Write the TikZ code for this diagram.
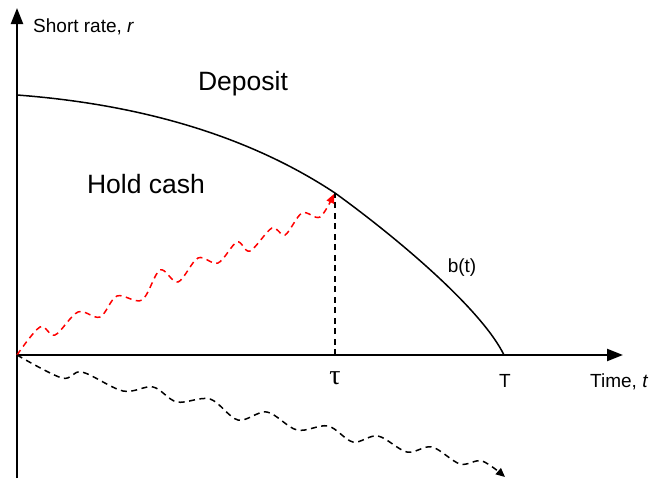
\documentclass[tikz,border=0pt]{standalone}
\usepackage{fontspec}
\setmainfont{Liberation Sans}
\newfontfamily\serifgr{Liberation Serif}
\usetikzlibrary{arrows.meta}
\begin{document}
\begin{tikzpicture}[x=1pt,y=-1pt,
  axis/.style={line width=2.2pt,-{Triangle[length=16pt,width=12pt]}},
  bcurve/.style={line width=1.5pt},
  wavy/.style={line width=1.5pt,dash pattern=on 6pt off 4.5pt,-{Triangle[length=9pt,width=8pt]}},
  small/.style={inner sep=0pt,font=\fontsize{19}{23}\selectfont},
  big/.style={inner sep=0pt,font=\fontsize{26.5}{31}\selectfont}]
\useasboundingbox (0,0) rectangle (649,479);
\coordinate (O) at (17,355);
\coordinate (ytop) at (17,8);
\coordinate (ybot) at (17,478);
\coordinate (xend) at (623,355);
\coordinate (tau) at (335,355);
\coordinate (hit) at (335,193);
\coordinate (Tp) at (504,355);
\coordinate (redend) at (334,194);
\coordinate (blackend) at (505,477);
% axes
\draw[axis] (ybot) -- (ytop);
\draw[axis] (O) -- (xend);
% boundary curve
\draw[bcurve] (17,95) .. controls (150,105) and (255,140) .. (hit)
  .. controls (400,240) and (482,310) .. (Tp);
% dashed vertical
\draw[line width=1.4pt,dash pattern=on 6pt off 4.5pt] (tau) -- (hit);
% red wavy path
\draw[wavy,red] plot[smooth,tension=0.55] coordinates {(O) (40,327) (55,335) (78,312) (100,317) (117,296) (142,300) (160,270) (178,282) (198,258) (218,263) (237,242) (250,251) (272,228) (285,235) (302,213) (320,217) (redend)};
% black wavy path
\draw[wavy,black] plot[smooth,tension=0.55] coordinates {(O) (62,378) (82,372) (123,391) (153,387) (177,402) (210,399) (238,420) (267,412) (297,430) (328,426) (353,442) (378,436) (407,452) (432,447) (460,464) (482,461) (blackend)};
% labels
\node[small,anchor=west] (ylab) at (33,27) {Short rate, \textit{r}};
\node[big] (dep) at (243,84) {Deposit};
\node[big] (hold) at (146,184) {Hold cash};
\node[small] (bt) at (462,268) {b(t)};
\node[inner sep=0pt,font=\fontsize{28}{30}\selectfont] (taul) at (335,378) {\serifgr τ};
\node[small] (Tl) at (505,381) {T};
\node[small,anchor=west] (xlab) at (590,382) {Time, \textit{t}};
\end{tikzpicture}
\end{document}
